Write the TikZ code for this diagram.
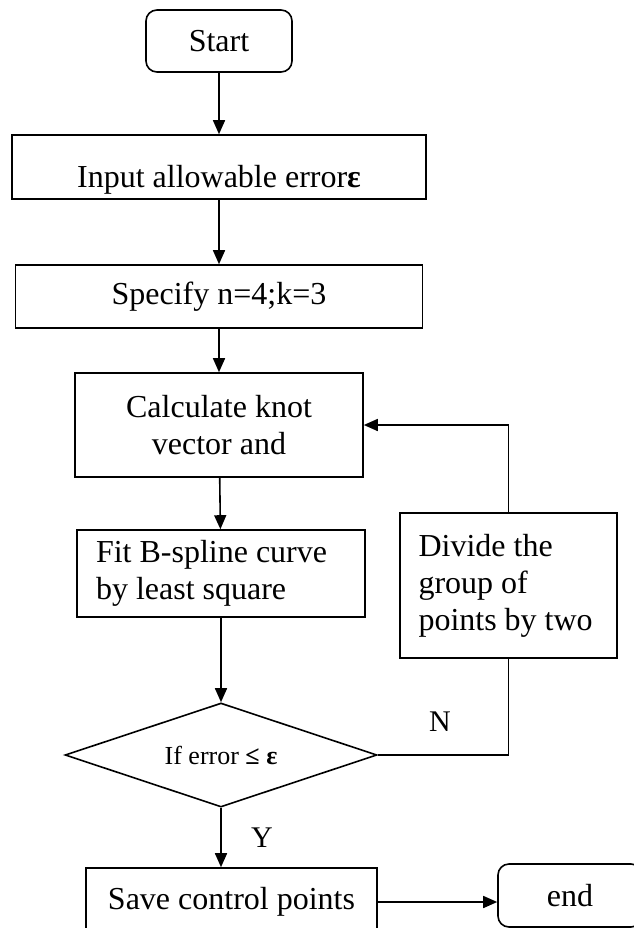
\documentclass[tikz,border=0pt]{standalone}
\usepackage{fontspec}
\setmainfont{Liberation Serif}
\usetikzlibrary{arrows.meta}
\usetikzlibrary{shapes.geometric}

\begin{document}
\begin{tikzpicture}[x=1pt,y=-1pt]
    \useasboundingbox (0,0) rectangle (633,928);
    \begin{scope} [every node/.style={draw,line width=1.6pt,inner sep=0pt,font=\fontsize{32}{37}\selectfont}]
        \node[rounded corners=11pt,minimum width=146pt,minimum height=62pt] (start) at (219,41) {Start};
        \node[minimum width=414pt,minimum height=64pt,text height=44pt,text depth=4pt] (input) at (219,167) {Input allowable error\textbf{ε}};
        \node[minimum width=407pt,minimum height=63pt] (specify) at (219,296.5) {Specify n=4;k=3};
        \node[minimum width=288pt,minimum height=104pt,align=center] (calc) at (219,425) {Calculate knot\\vector and};
        \node[minimum width=288pt,minimum height=87pt,text width=250pt,align=flush left] (fit) at (221,573.5) {Fit B-spline curve\\by least square};
        \node[minimum width=217pt,minimum height=145pt,text width=180pt,align=flush left] (divide) at (508.5,585.5) {Divide the\\group of\\points by two};
        \node[diamond,aspect=3,minimum width=312pt,minimum height=104pt,font=\fontsize{26}{30}\selectfont] (check) at (221,755) {If error \textbf{≤} \textbf{ε}};
        \node[minimum width=291pt,minimum height=68pt] (save) at (231.5,902) {Save control points};
        \node[rounded corners=11pt,minimum width=144pt,minimum height=63pt] (finish) at (570,895.5) {end};
    \end{scope}

    \begin{scope}[>={Triangle[length=14pt,width=12pt]},
            every node/.style={font=\fontsize{30}{35}\selectfont},
            every edge/.style={draw,line width=1.6pt}]
        \path [->] (start) edge (input);
        \path [->] (input) edge (specify);
        \path [->] (specify) edge (calc);
        \path [->] (calc) edge (fit);
        \path [->] (fit) edge (check);
        \path [->] (check.south) edge (check.south |- save.north);
        \path [->] (save.east) edge (save.east -| finish.west);
        \draw [->,line width=1.6pt] (divide.north) |- (calc.east);
        \draw [line width=1.6pt] (check.east) -| (divide.south);
        \node (no) at (440,722) {N};
        \node (yes) at (262,838) {Y};
    \end{scope}
\end{tikzpicture}
\end{document}
